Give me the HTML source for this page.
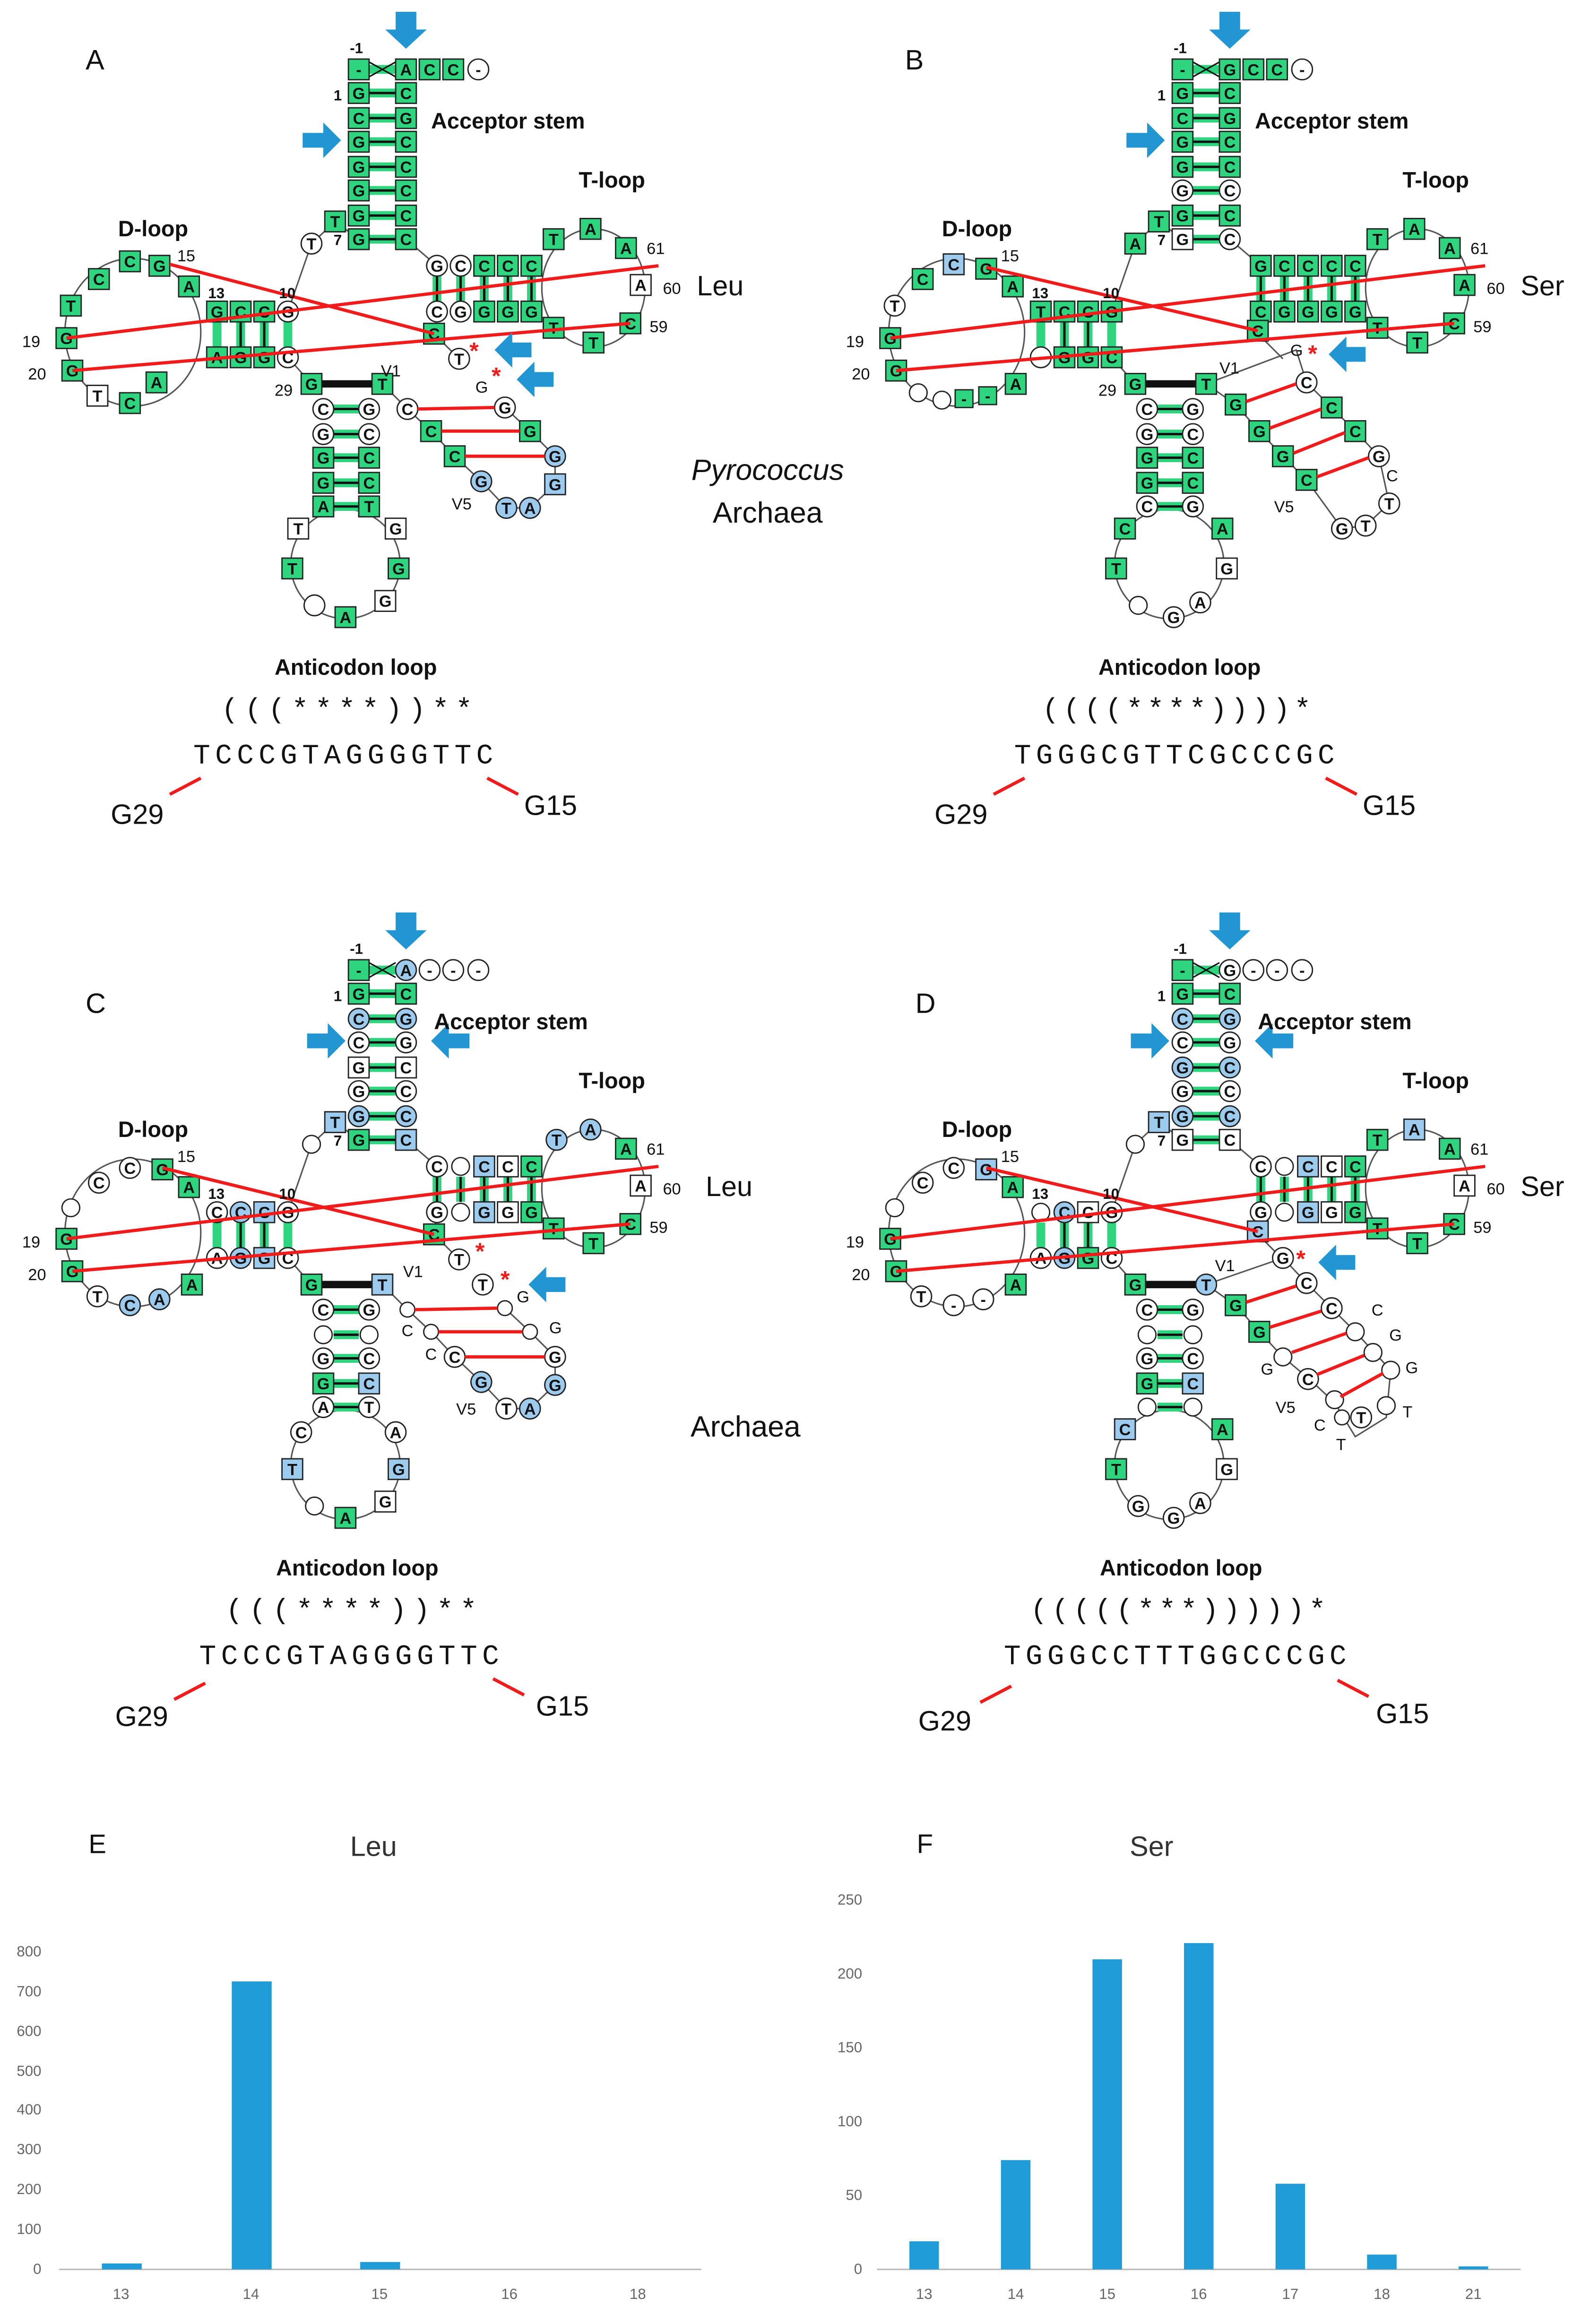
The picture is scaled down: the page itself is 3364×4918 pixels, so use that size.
<!DOCTYPE html>
<html><head><meta charset="utf-8"><style>
html,body{margin:0;padding:0;background:#fff}
svg{display:block}
text{font-family:"Liberation Sans",sans-serif}
.g{fill:#2ed47e;stroke:#222;stroke-width:.9}
.w{fill:#fff;stroke:#222;stroke-width:.9}
.b{fill:#9ccbee;stroke:#222;stroke-width:.9}
.t{font-size:11px;font-weight:bold;text-anchor:middle;fill:#111}
.n{font-size:11px;fill:#111}
.nb{font-size:10px;font-weight:bold;fill:#111}
.lab{font-size:15px;font-weight:bold;fill:#111}
.big{font-size:19px;fill:#111}
.mono{font-family:"Liberation Mono",monospace;font-size:19px;fill:#111}
.red{stroke:#f01c1c;stroke-width:2.2;fill:none}
.arr{fill:#2196d3}
.ax{font-size:10px;fill:#666}
</style></head><body>
<svg width="3364" height="4918" viewBox="0 0 1077 1574" preserveAspectRatio="none" xmlns="http://www.w3.org/2000/svg">
<defs>
<g id="skel">
<ellipse cx="90" cy="225" rx="46" ry="50" fill="none" stroke="#555" stroke-width="1"/>
<ellipse cx="402" cy="195" rx="35" ry="40" fill="none" stroke="#555" stroke-width="1"/>
<ellipse cx="234" cy="382" rx="37" ry="37" fill="none" stroke="#555" stroke-width="1"/>
<polyline points="243,162 227,150 211,165 195,211" fill="none" stroke="#555"/>
<polyline points="195,242 211,260" fill="none" stroke="#555"/>
<polyline points="275,162 296,180" fill="none" stroke="#555"/>
<polyline points="296,211 294,226 311,243" fill="none" stroke="#555"/>
<g fill="#2ed47e">
<rect x="250" y="60" width="18" height="6"/><rect x="250" y="77" width="18" height="6"/><rect x="250" y="93" width="18" height="6"/><rect x="250" y="110" width="18" height="6"/><rect x="250" y="126" width="18" height="6"/><rect x="250" y="143" width="18" height="6"/><rect x="250" y="159" width="18" height="6"/><rect x="250" y="44" width="18" height="6"/>
<rect x="144" y="218" width="6" height="17"/><rect x="160" y="218" width="6" height="17"/><rect x="176" y="218" width="6" height="17"/><rect x="192" y="218" width="6" height="17"/>
<rect x="293" y="187" width="6" height="17"/><rect x="309" y="187" width="6" height="17"/><rect x="325" y="187" width="6" height="17"/><rect x="341" y="187" width="6" height="17"/><rect x="357" y="187" width="6" height="17"/>
<rect x="226" y="291" width="17" height="6"/><rect x="226" y="307" width="17" height="6"/><rect x="226" y="324" width="17" height="6"/><rect x="226" y="340" width="17" height="6"/><rect x="226" y="274" width="17" height="6"/>
</g>
<g stroke="#111" stroke-width="1.6">
<line x1="250" y1="63" x2="268" y2="63"/><line x1="250" y1="80" x2="268" y2="80"/><line x1="250" y1="96" x2="268" y2="96"/><line x1="250" y1="113" x2="268" y2="113"/><line x1="250" y1="129" x2="268" y2="129"/><line x1="250" y1="146" x2="268" y2="146"/><line x1="250" y1="162" x2="268" y2="162"/>
<line x1="250" y1="42" x2="268" y2="52" stroke-width="1"/><line x1="250" y1="52" x2="268" y2="42" stroke-width="1"/>
<line x1="163" y1="218" x2="163" y2="235"/><line x1="179" y1="218" x2="179" y2="235"/>
<line x1="296" y1="187" x2="296" y2="204"/><line x1="312" y1="187" x2="312" y2="204"/><line x1="328" y1="187" x2="328" y2="204"/><line x1="344" y1="187" x2="344" y2="204"/><line x1="360" y1="187" x2="360" y2="204"/>
<line x1="226" y1="277" x2="243" y2="277"/><line x1="226" y1="294" x2="243" y2="294"/><line x1="226" y1="310" x2="243" y2="310"/><line x1="226" y1="327" x2="243" y2="327"/><line x1="226" y1="343" x2="243" y2="343"/>
<line x1="218" y1="260" x2="252" y2="260" stroke-width="5"/>
</g>
</g>
</defs>

<!-- PANEL A -->
<g>
<text x="58" y="47" class="big">A</text>
<use href="#skel"/>
<polyline points="259,260 276,277 292,292 308,309 326,326 343,344 359,344 376,328 376,309 359,292 342,276" fill="none" stroke="#555"/>
<rect class="g" x="236" y="40" width="14" height="14"/><text class="t" x="243" y="51">-</text>
<rect class="g" x="268" y="40" width="14" height="14"/><text class="t" x="275" y="51">A</text>
<rect class="g" x="284" y="40" width="14" height="14"/><text class="t" x="291" y="51">C</text>
<rect class="g" x="300" y="40" width="14" height="14"/><text class="t" x="307" y="51">C</text>
<circle class="w" cx="324" cy="47" r="7"/><text class="t" x="324" y="51">-</text>
<g>
<rect class="g" x="236" y="56" width="14" height="14"/><text class="t" x="243" y="67">G</text><rect class="g" x="268" y="56" width="14" height="14"/><text class="t" x="275" y="67">C</text>
<rect class="g" x="236" y="73" width="14" height="14"/><text class="t" x="243" y="84">C</text><rect class="g" x="268" y="73" width="14" height="14"/><text class="t" x="275" y="84">G</text>
<rect class="g" x="236" y="89" width="14" height="14"/><text class="t" x="243" y="100">G</text><rect class="g" x="268" y="89" width="14" height="14"/><text class="t" x="275" y="100">C</text>
<rect class="g" x="236" y="106" width="14" height="14"/><text class="t" x="243" y="117">G</text><rect class="g" x="268" y="106" width="14" height="14"/><text class="t" x="275" y="117">C</text>
<rect class="g" x="236" y="122" width="14" height="14"/><text class="t" x="243" y="133">G</text><rect class="g" x="268" y="122" width="14" height="14"/><text class="t" x="275" y="133">C</text>
<rect class="g" x="236" y="139" width="14" height="14"/><text class="t" x="243" y="150">G</text><rect class="g" x="268" y="139" width="14" height="14"/><text class="t" x="275" y="150">C</text>
<rect class="g" x="236" y="155" width="14" height="14"/><text class="t" x="243" y="166">G</text><rect class="g" x="268" y="155" width="14" height="14"/><text class="t" x="275" y="166">C</text>
</g>
<rect class="g" x="220" y="143" width="14" height="14"/><text class="t" x="227" y="154">T</text>
<circle class="w" cx="211" cy="165" r="7"/><text class="t" x="211" y="169">T</text>
<rect class="g" x="140" y="204" width="14" height="14"/><text class="t" x="147" y="215">G</text>
<rect class="g" x="156" y="204" width="14" height="14"/><text class="t" x="163" y="215">C</text>
<rect class="g" x="172" y="204" width="14" height="14"/><text class="t" x="179" y="215">C</text>
<circle class="w" cx="195" cy="211" r="7"/><text class="t" x="195" y="215">G</text>
<rect class="g" x="140" y="235" width="14" height="14"/><text class="t" x="147" y="246">A</text>
<rect class="g" x="156" y="235" width="14" height="14"/><text class="t" x="163" y="246">G</text>
<rect class="g" x="172" y="235" width="14" height="14"/><text class="t" x="179" y="246">G</text>
<circle class="w" cx="195" cy="242" r="7"/><text class="t" x="195" y="246">C</text>
<rect class="g" x="121" y="187" width="14" height="14"/><text class="t" x="128" y="198">A</text>
<rect class="g" x="101" y="173" width="14" height="14"/><text class="t" x="108" y="184">G</text>
<rect class="g" x="81" y="170" width="14" height="14"/><text class="t" x="88" y="181">C</text>
<rect class="g" x="60" y="182" width="14" height="14"/><text class="t" x="67" y="193">C</text>
<rect class="g" x="41" y="200" width="14" height="14"/><text class="t" x="48" y="211">T</text>
<rect class="g" x="38" y="222" width="14" height="14"/><text class="t" x="45" y="233">G</text>
<rect class="g" x="42" y="244" width="14" height="14"/><text class="t" x="49" y="255">G</text>
<rect class="w" x="59" y="261" width="14" height="14"/><text class="t" x="66" y="272">T</text>
<rect class="g" x="81" y="266" width="14" height="14"/><text class="t" x="88" y="277">C</text>
<rect class="g" x="99" y="252" width="14" height="14"/><text class="t" x="106" y="263">A</text>
<circle class="w" cx="296" cy="180" r="7"/><text class="t" x="296" y="184">G</text>
<circle class="w" cx="312" cy="180" r="7"/><text class="t" x="312" y="184">C</text>
<rect class="g" x="321" y="173" width="14" height="14"/><text class="t" x="328" y="184">C</text>
<rect class="g" x="337" y="173" width="14" height="14"/><text class="t" x="344" y="184">C</text>
<rect class="g" x="353" y="173" width="14" height="14"/><text class="t" x="360" y="184">C</text>
<circle class="w" cx="296" cy="211" r="7"/><text class="t" x="296" y="215">C</text>
<circle class="w" cx="312" cy="211" r="7"/><text class="t" x="312" y="215">G</text>
<rect class="g" x="321" y="204" width="14" height="14"/><text class="t" x="328" y="215">G</text>
<rect class="g" x="337" y="204" width="14" height="14"/><text class="t" x="344" y="215">G</text>
<rect class="g" x="353" y="204" width="14" height="14"/><text class="t" x="360" y="215">G</text>
<rect class="g" x="368" y="155" width="14" height="14"/><text class="t" x="375" y="166">T</text>
<rect class="g" x="393" y="148" width="14" height="14"/><text class="t" x="400" y="159">A</text>
<rect class="g" x="417" y="161" width="14" height="14"/><text class="t" x="424" y="172">A</text>
<rect class="w" x="427" y="186" width="14" height="14"/><text class="t" x="434" y="197">A</text>
<rect class="g" x="420" y="212" width="14" height="14"/><text class="t" x="427" y="223">C</text>
<rect class="g" x="395" y="225" width="14" height="14"/><text class="t" x="402" y="236">T</text>
<rect class="g" x="368" y="215" width="14" height="14"/><text class="t" x="375" y="226">T</text>
<rect class="g" x="287" y="219" width="14" height="14"/><text class="t" x="294" y="230">C</text>
<circle class="w" cx="311" cy="243" r="7"/><text class="t" x="311" y="247">T</text>
<rect class="g" x="204" y="253" width="14" height="14"/><text class="t" x="211" y="264">G</text>
<rect class="g" x="252" y="253" width="14" height="14"/><text class="t" x="259" y="264">T</text>
<circle class="w" cx="219" cy="277" r="7"/><text class="t" x="219" y="281">C</text><circle class="w" cx="250" cy="277" r="7"/><text class="t" x="250" y="281">G</text>
<circle class="w" cx="219" cy="294" r="7"/><text class="t" x="219" y="298">G</text><circle class="w" cx="250" cy="294" r="7"/><text class="t" x="250" y="298">C</text>
<rect class="g" x="212" y="303" width="14" height="14"/><text class="t" x="219" y="314">G</text><rect class="g" x="243" y="303" width="14" height="14"/><text class="t" x="250" y="314">C</text>
<rect class="g" x="212" y="320" width="14" height="14"/><text class="t" x="219" y="331">G</text><rect class="g" x="243" y="320" width="14" height="14"/><text class="t" x="250" y="331">C</text>
<rect class="g" x="212" y="336" width="14" height="14"/><text class="t" x="219" y="347">A</text><rect class="g" x="243" y="336" width="14" height="14"/><text class="t" x="250" y="347">T</text>
<rect class="w" x="195" y="351" width="14" height="14"/><text class="t" x="202" y="362">T</text>
<rect class="g" x="191" y="378" width="14" height="14"/><text class="t" x="198" y="389">T</text>
<circle class="w" cx="213" cy="410" r="7"/>
<rect class="g" x="227" y="411" width="14" height="14"/><text class="t" x="234" y="422">A</text>
<rect class="w" x="254" y="400" width="14" height="14"/><text class="t" x="261" y="411">G</text>
<rect class="g" x="263" y="378" width="14" height="14"/><text class="t" x="270" y="389">G</text>
<rect class="w" x="261" y="351" width="14" height="14"/><text class="t" x="268" y="362">G</text>
<circle class="w" cx="276" cy="277" r="7"/><text class="t" x="276" y="281">C</text>
<rect class="g" x="285" y="285" width="14" height="14"/><text class="t" x="292" y="296">C</text>
<rect class="g" x="301" y="302" width="14" height="14"/><text class="t" x="308" y="313">C</text>
<circle class="b" cx="326" cy="326" r="7"/><text class="t" x="326" y="330">G</text>
<circle class="b" cx="343" cy="344" r="7"/><text class="t" x="343" y="348">T</text>
<circle class="b" cx="359" cy="344" r="7"/><text class="t" x="359" y="348">A</text>
<rect class="b" x="369" y="321" width="14" height="14"/><text class="t" x="376" y="332">G</text>
<circle class="b" cx="376" cy="309" r="7"/><text class="t" x="376" y="313">G</text>
<rect class="g" x="352" y="285" width="14" height="14"/><text class="t" x="359" y="296">G</text>
<circle class="w" cx="342" cy="276" r="7"/><text class="t" x="342" y="280">G</text>
<line class="red" x1="283" y1="277" x2="335" y2="276"/><line class="red" x1="299" y1="292" x2="352" y2="292"/><line class="red" x1="315" y1="309" x2="369" y2="309"/>
<line class="red" x1="115" y1="179" x2="294" y2="226"/><line class="red" x1="45" y1="229" x2="446" y2="180"/><line class="red" x1="49" y1="251" x2="427" y2="219"/>
<text class="nb" x="237" y="36">-1</text><text class="nb" x="226" y="68">1</text><text class="nb" x="226" y="166">7</text><text class="nb" x="189" y="202">10</text><text class="nb" x="141" y="202">13</text>
<text class="n" x="120" y="177">15</text><text class="n" x="15" y="235">19</text><text class="n" x="19" y="257">20</text><text class="n" x="186" y="268">29</text>
<text class="n" x="438" y="172">61</text><text class="n" x="449" y="199">60</text><text class="n" x="440" y="225">59</text>
<text class="n" x="258" y="255">V1</text><text class="n" x="306" y="345">V5</text><text class="n" x="322" y="266">G</text>
<text x="318" y="243" fill="#f01c1c" font-size="16" font-weight="bold">*</text><text x="333" y="260" fill="#f01c1c" font-size="16" font-weight="bold">*</text>
<path class="arr" d="M268,8 h14 v12 h7 l-14,13 l-14,-13 h7z"/>
<path class="arr" d="M205,90 h14 v-7 l12,12 l-12,12 v-7 h-14z"/>
<path class="arr" d="M360,232 h-13 v-7 l-12,12 l12,12 v-7 h13z"/>
<path class="arr" d="M375,252 h-13 v-7 l-12,12 l12,12 v-7 h13z"/>
<text class="lab" x="292" y="87">Acceptor stem</text><text class="lab" x="392" y="127">T-loop</text><text class="lab" x="80" y="160">D-loop</text>
<text x="472" y="200" font-size="19" fill="#111">Leu</text>
<text class="lab" x="186" y="457">Anticodon loop</text>
<text class="mono" x="150" y="486" textLength="170">(((****))**</text>
<text class="mono" x="131" y="517" textLength="203">TCCCGTAGGGGTTC</text>
<line class="red" x1="115" y1="538" x2="136" y2="527"/><line class="red" x1="330" y1="527" x2="351" y2="538"/>
<text x="75" y="558" font-size="19" fill="#111">G29</text><text x="355" y="552" font-size="19" fill="#111">G15</text>
<text x="520" y="325" font-size="20" font-style="italic" text-anchor="middle" fill="#111">Pyrococcus</text>
<text x="520" y="354" font-size="20" text-anchor="middle" fill="#111">Archaea</text>
</g>

<!-- PANEL B -->
<g transform="translate(558,0)">
<text x="55" y="47" class="big">B</text>
<use href="#skel"/>
<polyline points="259,260 320,237 327,259 344,276 360,292 376,309 383,341 367,356 351,358 327,325 311,309 295,292 279,274 259,260" fill="none" stroke="#555"/>
<rect class="g" x="236" y="40" width="14" height="14"/><text class="t" x="243" y="51">-</text>
<rect class="g" x="268" y="40" width="14" height="14"/><text class="t" x="275" y="51">G</text>
<rect class="g" x="284" y="40" width="14" height="14"/><text class="t" x="291" y="51">C</text>
<rect class="g" x="300" y="40" width="14" height="14"/><text class="t" x="307" y="51">C</text>
<circle class="w" cx="324" cy="47" r="7"/><text class="t" x="324" y="51">-</text>
<rect class="g" x="236" y="56" width="14" height="14"/><text class="t" x="243" y="67">G</text><rect class="g" x="268" y="56" width="14" height="14"/><text class="t" x="275" y="67">C</text>
<rect class="g" x="236" y="73" width="14" height="14"/><text class="t" x="243" y="84">C</text><rect class="g" x="268" y="73" width="14" height="14"/><text class="t" x="275" y="84">G</text>
<rect class="g" x="236" y="89" width="14" height="14"/><text class="t" x="243" y="100">G</text><rect class="g" x="268" y="89" width="14" height="14"/><text class="t" x="275" y="100">C</text>
<rect class="g" x="236" y="106" width="14" height="14"/><text class="t" x="243" y="117">G</text><rect class="g" x="268" y="106" width="14" height="14"/><text class="t" x="275" y="117">C</text>
<circle class="w" cx="243" cy="129" r="7"/><text class="t" x="243" y="133">G</text><circle class="w" cx="275" cy="129" r="7"/><text class="t" x="275" y="133">C</text>
<rect class="g" x="236" y="139" width="14" height="14"/><text class="t" x="243" y="150">G</text><rect class="g" x="268" y="139" width="14" height="14"/><text class="t" x="275" y="150">C</text>
<rect class="w" x="236" y="155" width="14" height="14"/><text class="t" x="243" y="166">G</text><circle class="w" cx="275" cy="162" r="7"/><text class="t" x="275" y="166">C</text>
<rect class="g" x="220" y="143" width="14" height="14"/><text class="t" x="227" y="154">T</text>
<rect class="g" x="204" y="158" width="14" height="14"/><text class="t" x="211" y="169">A</text>
<rect class="g" x="140" y="204" width="14" height="14"/><text class="t" x="147" y="215">T</text>
<rect class="g" x="156" y="204" width="14" height="14"/><text class="t" x="163" y="215">C</text>
<rect class="g" x="172" y="204" width="14" height="14"/><text class="t" x="179" y="215">C</text>
<rect class="g" x="188" y="204" width="14" height="14"/><text class="t" x="195" y="215">G</text>
<circle class="w" cx="147" cy="242" r="7"/>
<rect class="g" x="156" y="235" width="14" height="14"/><text class="t" x="163" y="246">G</text>
<rect class="g" x="172" y="235" width="14" height="14"/><text class="t" x="179" y="246">G</text>
<rect class="g" x="188" y="235" width="14" height="14"/><text class="t" x="195" y="246">C</text>
<rect class="g" x="121" y="187" width="14" height="14"/><text class="t" x="128" y="198">A</text>
<rect class="g" x="103" y="175" width="14" height="14"/><text class="t" x="110" y="186">G</text>
<rect class="b" x="81" y="172" width="14" height="14"/><text class="t" x="88" y="183">C</text>
<rect class="g" x="60" y="182" width="14" height="14"/><text class="t" x="67" y="193">C</text>
<circle class="w" cx="48" cy="207" r="7"/><text class="t" x="48" y="211">T</text>
<rect class="g" x="38" y="222" width="14" height="14"/><text class="t" x="45" y="233">G</text>
<rect class="g" x="42" y="244" width="14" height="14"/><text class="t" x="49" y="255">G</text>
<circle class="w" cx="64" cy="266" r="6"/><circle class="w" cx="80" cy="271" r="6"/>
<rect class="g" x="89" y="264" width="12" height="12"/><text class="t" x="95" y="274">-</text>
<rect class="g" x="105" y="262" width="12" height="12"/><text class="t" x="111" y="272">-</text>
<rect class="g" x="123" y="253" width="14" height="14"/><text class="t" x="130" y="264">A</text>
<rect class="g" x="289" y="173" width="14" height="14"/><text class="t" x="296" y="184">G</text>
<rect class="g" x="305" y="173" width="14" height="14"/><text class="t" x="312" y="184">C</text>
<rect class="g" x="321" y="173" width="14" height="14"/><text class="t" x="328" y="184">C</text>
<rect class="g" x="337" y="173" width="14" height="14"/><text class="t" x="344" y="184">C</text>
<rect class="g" x="353" y="173" width="14" height="14"/><text class="t" x="360" y="184">C</text>
<rect class="g" x="289" y="204" width="14" height="14"/><text class="t" x="296" y="215">C</text>
<rect class="g" x="305" y="204" width="14" height="14"/><text class="t" x="312" y="215">G</text>
<rect class="g" x="321" y="204" width="14" height="14"/><text class="t" x="328" y="215">G</text>
<rect class="g" x="337" y="204" width="14" height="14"/><text class="t" x="344" y="215">G</text>
<rect class="g" x="353" y="204" width="14" height="14"/><text class="t" x="360" y="215">G</text>
<rect class="g" x="368" y="155" width="14" height="14"/><text class="t" x="375" y="166">T</text>
<rect class="g" x="393" y="148" width="14" height="14"/><text class="t" x="400" y="159">A</text>
<rect class="g" x="417" y="161" width="14" height="14"/><text class="t" x="424" y="172">A</text>
<rect class="g" x="427" y="186" width="14" height="14"/><text class="t" x="434" y="197">A</text>
<rect class="g" x="420" y="212" width="14" height="14"/><text class="t" x="427" y="223">C</text>
<rect class="g" x="395" y="225" width="14" height="14"/><text class="t" x="402" y="236">T</text>
<rect class="g" x="368" y="215" width="14" height="14"/><text class="t" x="375" y="226">T</text>
<rect class="g" x="287" y="217" width="14" height="14"/><text class="t" x="294" y="228">C</text>
<rect class="g" x="204" y="253" width="14" height="14"/><text class="t" x="211" y="264">G</text>
<rect class="g" x="252" y="253" width="14" height="14"/><text class="t" x="259" y="264">T</text>
<circle class="w" cx="219" cy="277" r="7"/><text class="t" x="219" y="281">C</text><circle class="w" cx="250" cy="277" r="7"/><text class="t" x="250" y="281">G</text>
<circle class="w" cx="219" cy="294" r="7"/><text class="t" x="219" y="298">G</text><circle class="w" cx="250" cy="294" r="7"/><text class="t" x="250" y="298">C</text>
<rect class="g" x="212" y="303" width="14" height="14"/><text class="t" x="219" y="314">G</text><rect class="g" x="243" y="303" width="14" height="14"/><text class="t" x="250" y="314">C</text>
<rect class="g" x="212" y="320" width="14" height="14"/><text class="t" x="219" y="331">G</text><rect class="g" x="243" y="320" width="14" height="14"/><text class="t" x="250" y="331">C</text>
<circle class="w" cx="219" cy="343" r="7"/><text class="t" x="219" y="347">C</text><circle class="w" cx="250" cy="343" r="7"/><text class="t" x="250" y="347">G</text>
<rect class="g" x="197" y="351" width="14" height="14"/><text class="t" x="204" y="362">C</text>
<rect class="g" x="191" y="378" width="14" height="14"/><text class="t" x="198" y="389">T</text>
<circle class="w" cx="213" cy="410" r="6"/>
<circle class="w" cx="237" cy="418" r="7"/><text class="t" x="237" y="422">G</text>
<circle class="w" cx="255" cy="408" r="7"/><text class="t" x="255" y="412">A</text>
<rect class="w" x="266" y="378" width="14" height="14"/><text class="t" x="273" y="389">G</text>
<rect class="g" x="263" y="351" width="14" height="14"/><text class="t" x="270" y="362">A</text>
<text class="n" x="316" y="241">G</text>
<circle class="w" cx="327" cy="259" r="7"/><text class="t" x="327" y="263">C</text>
<rect class="g" x="337" y="269" width="14" height="14"/><text class="t" x="344" y="280">C</text>
<rect class="g" x="353" y="285" width="14" height="14"/><text class="t" x="360" y="296">C</text>
<circle class="w" cx="376" cy="309" r="7"/><text class="t" x="376" y="313">G</text>
<text class="n" x="381" y="326">C</text>
<circle class="w" cx="383" cy="341" r="7"/><text class="t" x="383" y="345">T</text>
<circle class="w" cx="367" cy="356" r="7"/><text class="t" x="367" y="360">T</text>
<circle class="w" cx="351" cy="358" r="7"/><text class="t" x="351" y="362">G</text>
<rect class="g" x="272" y="267" width="14" height="14"/><text class="t" x="279" y="278">G</text>
<rect class="g" x="288" y="285" width="14" height="14"/><text class="t" x="295" y="296">G</text>
<rect class="g" x="304" y="302" width="14" height="14"/><text class="t" x="311" y="313">G</text>
<rect class="g" x="320" y="318" width="14" height="14"/><text class="t" x="327" y="329">C</text>
<line class="red" x1="286" y1="272" x2="320" y2="260"/><line class="red" x1="302" y1="290" x2="337" y2="277"/><line class="red" x1="318" y1="307" x2="353" y2="293"/><line class="red" x1="334" y1="323" x2="369" y2="310"/>
<line class="red" x1="110" y1="181" x2="294" y2="224"/><line class="red" x1="45" y1="229" x2="448" y2="180"/><line class="red" x1="49" y1="251" x2="427" y2="219"/>
<text class="nb" x="237" y="36">-1</text><text class="nb" x="226" y="68">1</text><text class="nb" x="226" y="166">7</text><text class="nb" x="189" y="202">10</text><text class="nb" x="141" y="202">13</text>
<text class="n" x="120" y="177">15</text><text class="n" x="15" y="235">19</text><text class="n" x="19" y="257">20</text><text class="n" x="186" y="268">29</text>
<text class="n" x="438" y="172">61</text><text class="n" x="449" y="199">60</text><text class="n" x="440" y="225">59</text>
<text class="n" x="268" y="253">V1</text><text class="n" x="305" y="347">V5</text>
<text x="328" y="245" fill="#f01c1c" font-size="16" font-weight="bold">*</text>
<path class="arr" d="M268,8 h14 v12 h7 l-14,13 l-14,-13 h7z"/>
<path class="arr" d="M205,90 h14 v-7 l12,12 l-12,12 v-7 h-14z"/>
<path class="arr" d="M367,235 h-13 v-7 l-12,12 l12,12 v-7 h13z"/>
<text class="lab" x="292" y="87">Acceptor stem</text><text class="lab" x="392" y="127">T-loop</text><text class="lab" x="80" y="160">D-loop</text>
<text x="472" y="200" font-size="19" fill="#111">Ser</text>
<text class="lab" x="186" y="457">Anticodon loop</text>
<text class="mono" x="148" y="486" textLength="182">((((****))))*</text>
<text class="mono" x="129" y="517" textLength="217">TGGGCGTTCGCCCGC</text>
<line class="red" x1="115" y1="538" x2="136" y2="527"/><line class="red" x1="340" y1="527" x2="361" y2="538"/>
<text x="75" y="558" font-size="19" fill="#111">G29</text><text x="365" y="552" font-size="19" fill="#111">G15</text>
</g>

<!-- PANEL C -->
<g transform="translate(0,610)">
<text x="58" y="76" class="big">C</text>
<use href="#skel"/>
<polyline points="259,260 276,277 292,292 308,309 326,326 343,344 359,344 376,328 376,309 359,292 342,276" fill="none" stroke="#555"/>
<rect class="g" x="236" y="40" width="14" height="14"/><text class="t" x="243" y="51">-</text>
<circle class="b" cx="275" cy="47" r="7"/><text class="t" x="275" y="51">A</text>
<circle class="w" cx="291" cy="47" r="7"/><text class="t" x="291" y="51">-</text>
<circle class="w" cx="307" cy="47" r="7"/><text class="t" x="307" y="51">-</text>
<circle class="w" cx="324" cy="47" r="7"/><text class="t" x="324" y="51">-</text>
<rect class="g" x="236" y="56" width="14" height="14"/><text class="t" x="243" y="67">G</text><rect class="g" x="268" y="56" width="14" height="14"/><text class="t" x="275" y="67">C</text>
<circle class="b" cx="243" cy="80" r="7"/><text class="t" x="243" y="84">C</text><circle class="b" cx="275" cy="80" r="7"/><text class="t" x="275" y="84">G</text>
<circle class="w" cx="243" cy="96" r="7"/><text class="t" x="243" y="100">C</text><circle class="w" cx="275" cy="96" r="7"/><text class="t" x="275" y="100">G</text>
<rect class="w" x="236" y="106" width="14" height="14"/><text class="t" x="243" y="117">G</text><rect class="w" x="268" y="106" width="14" height="14"/><text class="t" x="275" y="117">C</text>
<circle class="w" cx="243" cy="129" r="7"/><text class="t" x="243" y="133">G</text><circle class="w" cx="275" cy="129" r="7"/><text class="t" x="275" y="133">C</text>
<circle class="b" cx="243" cy="146" r="7"/><text class="t" x="243" y="150">G</text><circle class="b" cx="275" cy="146" r="7"/><text class="t" x="275" y="150">C</text>
<rect class="g" x="236" y="155" width="14" height="14"/><text class="t" x="243" y="166">G</text><rect class="b" x="268" y="155" width="14" height="14"/><text class="t" x="275" y="166">C</text>
<rect class="b" x="220" y="143" width="14" height="14"/><text class="t" x="227" y="154">T</text>
<circle class="w" cx="211" cy="165" r="6"/>
<circle class="w" cx="147" cy="211" r="7"/><text class="t" x="147" y="215">C</text>
<circle class="b" cx="163" cy="211" r="7"/><text class="t" x="163" y="215">C</text>
<rect class="b" x="172" y="204" width="14" height="14"/><text class="t" x="179" y="215">C</text>
<circle class="w" cx="195" cy="211" r="7"/><text class="t" x="195" y="215">G</text>
<circle class="w" cx="147" cy="242" r="7"/><text class="t" x="147" y="246">A</text>
<circle class="b" cx="163" cy="242" r="7"/><text class="t" x="163" y="246">G</text>
<rect class="b" x="172" y="235" width="14" height="14"/><text class="t" x="179" y="246">G</text>
<circle class="w" cx="195" cy="242" r="7"/><text class="t" x="195" y="246">C</text>
<rect class="g" x="121" y="187" width="14" height="14"/><text class="t" x="128" y="198">A</text>
<rect class="g" x="103" y="175" width="14" height="14"/><text class="t" x="110" y="186">G</text>
<circle class="w" cx="88" cy="181" r="7"/><text class="t" x="88" y="185">C</text>
<circle class="w" cx="67" cy="191" r="7"/><text class="t" x="67" y="195">C</text>
<circle class="w" cx="48" cy="208" r="6"/>
<rect class="g" x="38" y="222" width="14" height="14"/><text class="t" x="45" y="233">G</text>
<rect class="g" x="42" y="244" width="14" height="14"/><text class="t" x="49" y="255">G</text>
<circle class="w" cx="66" cy="268" r="7"/><text class="t" x="66" y="272">T</text>
<circle class="b" cx="88" cy="274" r="7"/><text class="t" x="88" y="278">C</text>
<circle class="b" cx="108" cy="270" r="7"/><text class="t" x="108" y="274">A</text>
<rect class="g" x="123" y="253" width="14" height="14"/><text class="t" x="130" y="264">A</text>
<circle class="w" cx="296" cy="180" r="7"/><text class="t" x="296" y="184">C</text>
<circle class="w" cx="312" cy="180" r="6"/>
<rect class="b" x="321" y="173" width="14" height="14"/><text class="t" x="328" y="184">C</text>
<rect class="w" x="337" y="173" width="14" height="14"/><text class="t" x="344" y="184">C</text>
<rect class="g" x="353" y="173" width="14" height="14"/><text class="t" x="360" y="184">C</text>
<circle class="w" cx="296" cy="211" r="7"/><text class="t" x="296" y="215">G</text>
<circle class="w" cx="312" cy="211" r="6"/>
<rect class="b" x="321" y="204" width="14" height="14"/><text class="t" x="328" y="215">G</text>
<rect class="w" x="337" y="204" width="14" height="14"/><text class="t" x="344" y="215">G</text>
<rect class="g" x="353" y="204" width="14" height="14"/><text class="t" x="360" y="215">G</text>
<circle class="b" cx="377" cy="162" r="7"/><text class="t" x="377" y="166">T</text>
<circle class="b" cx="400" cy="155" r="7"/><text class="t" x="400" y="159">A</text>
<rect class="g" x="417" y="161" width="14" height="14"/><text class="t" x="424" y="172">A</text>
<rect class="w" x="427" y="186" width="14" height="14"/><text class="t" x="434" y="197">A</text>
<rect class="g" x="420" y="212" width="14" height="14"/><text class="t" x="427" y="223">C</text>
<rect class="g" x="395" y="225" width="14" height="14"/><text class="t" x="402" y="236">T</text>
<rect class="g" x="368" y="215" width="14" height="14"/><text class="t" x="375" y="226">T</text>
<rect class="g" x="287" y="219" width="14" height="14"/><text class="t" x="294" y="230">C</text>
<circle class="w" cx="311" cy="243" r="7"/><text class="t" x="311" y="247">T</text>
<circle class="w" cx="327" cy="260" r="7"/><text class="t" x="327" y="264">T</text>
<rect class="g" x="204" y="253" width="14" height="14"/><text class="t" x="211" y="264">G</text>
<rect class="b" x="252" y="253" width="14" height="14"/><text class="t" x="259" y="264">T</text>
<circle class="w" cx="219" cy="277" r="7"/><text class="t" x="219" y="281">C</text><circle class="w" cx="250" cy="277" r="7"/><text class="t" x="250" y="281">G</text>
<circle class="w" cx="219" cy="294" r="6"/><circle class="w" cx="250" cy="294" r="6"/>
<circle class="w" cx="219" cy="310" r="7"/><text class="t" x="219" y="314">G</text><circle class="w" cx="250" cy="310" r="7"/><text class="t" x="250" y="314">C</text>
<rect class="g" x="212" y="320" width="14" height="14"/><text class="t" x="219" y="331">G</text><rect class="b" x="243" y="320" width="14" height="14"/><text class="t" x="250" y="331">C</text>
<circle class="w" cx="219" cy="343" r="7"/><text class="t" x="219" y="347">A</text><circle class="w" cx="250" cy="343" r="7"/><text class="t" x="250" y="347">T</text>
<circle class="w" cx="204" cy="360" r="7"/><text class="t" x="204" y="364">C</text>
<rect class="b" x="191" y="378" width="14" height="14"/><text class="t" x="198" y="389">T</text>
<circle class="w" cx="213" cy="410" r="6"/>
<rect class="g" x="227" y="411" width="14" height="14"/><text class="t" x="234" y="422">A</text>
<rect class="w" x="254" y="400" width="14" height="14"/><text class="t" x="261" y="411">G</text>
<rect class="b" x="263" y="378" width="14" height="14"/><text class="t" x="270" y="389">G</text>
<circle class="w" cx="268" cy="360" r="7"/><text class="t" x="268" y="364">A</text>
<circle class="w" cx="276" cy="277" r="5"/><text class="n" x="272" y="295">C</text>
<circle class="w" cx="292" cy="292" r="5"/><text class="n" x="288" y="311">C</text>
<circle class="w" cx="308" cy="309" r="7"/><text class="t" x="308" y="313">C</text>
<circle class="b" cx="326" cy="326" r="7"/><text class="t" x="326" y="330">G</text>
<circle class="w" cx="343" cy="344" r="7"/><text class="t" x="343" y="348">T</text>
<circle class="b" cx="359" cy="344" r="7"/><text class="t" x="359" y="348">A</text>
<circle class="b" cx="376" cy="328" r="7"/><text class="t" x="376" y="332">G</text>
<circle class="w" cx="376" cy="309" r="7"/><text class="t" x="376" y="313">G</text>
<circle class="w" cx="359" cy="292" r="5"/><text class="n" x="372" y="293">G</text>
<circle class="w" cx="342" cy="276" r="5"/><text class="n" x="350" y="272">G</text>
<line class="red" x1="281" y1="277" x2="337" y2="276"/><line class="red" x1="297" y1="292" x2="354" y2="292"/><line class="red" x1="315" y1="309" x2="369" y2="309"/>
<line class="red" x1="110" y1="181" x2="294" y2="226"/><line class="red" x1="45" y1="229" x2="446" y2="180"/><line class="red" x1="49" y1="251" x2="427" y2="219"/>
<text class="nb" x="237" y="36">-1</text><text class="nb" x="226" y="68">1</text><text class="nb" x="226" y="166">7</text><text class="nb" x="189" y="202">10</text><text class="nb" x="141" y="202">13</text>
<text class="n" x="120" y="177">15</text><text class="n" x="15" y="235">19</text><text class="n" x="19" y="257">20</text>
<text class="n" x="438" y="172">61</text><text class="n" x="449" y="199">60</text><text class="n" x="440" y="225">59</text>
<text class="n" x="273" y="255">V1</text><text class="n" x="309" y="348">V5</text>
<text x="322" y="243" fill="#f01c1c" font-size="16" font-weight="bold">*</text><text x="339" y="262" fill="#f01c1c" font-size="16" font-weight="bold">*</text>
<path class="arr" d="M268,8 h14 v12 h7 l-14,13 l-14,-13 h7z"/>
<path class="arr" d="M208,90 h14 v-7 l12,12 l-12,12 v-7 h-14z"/>
<path class="arr" d="M318,90 h-14 v-7 l-12,12 l12,12 v-7 h14z"/>
<path class="arr" d="M383,255 h-13 v-7 l-12,12 l12,12 v-7 h13z"/>
<text class="lab" x="294" y="87">Acceptor stem</text><text class="lab" x="392" y="127">T-loop</text><text class="lab" x="80" y="160">D-loop</text>
<text x="478" y="200" font-size="19" fill="#111">Leu</text>
<text class="lab" x="187" y="457">Anticodon loop</text>
<text class="mono" x="153" y="486" textLength="170">(((****))**</text>
<text class="mono" x="135" y="517" textLength="203">TCCCGTAGGGGTTC</text>
<line class="red" x1="118" y1="541" x2="139" y2="530"/><line class="red" x1="334" y1="527" x2="355" y2="538"/>
<text x="78" y="559" font-size="19" fill="#111">G29</text><text x="363" y="552" font-size="19" fill="#111">G15</text>
<text x="505" y="363" font-size="20" text-anchor="middle" fill="#111">Archaea</text>
</g>

<!-- PANEL D -->
<g transform="translate(558,610)">
<text x="62" y="76" class="big">D</text>
<use href="#skel"/>
<polyline points="259,260 311,242 327,259 344,276 360,292 384,318 381,350 360,363 346,340 330,325 311,309 295,292 279,274 259,260" fill="none" stroke="#555"/>
<rect class="g" x="236" y="40" width="14" height="14"/><text class="t" x="243" y="51">-</text>
<circle class="w" cx="275" cy="47" r="7"/><text class="t" x="275" y="51">G</text>
<circle class="w" cx="291" cy="47" r="7"/><text class="t" x="291" y="51">-</text>
<circle class="w" cx="307" cy="47" r="7"/><text class="t" x="307" y="51">-</text>
<circle class="w" cx="324" cy="47" r="7"/><text class="t" x="324" y="51">-</text>
<rect class="g" x="236" y="56" width="14" height="14"/><text class="t" x="243" y="67">G</text><rect class="g" x="268" y="56" width="14" height="14"/><text class="t" x="275" y="67">C</text>
<circle class="b" cx="243" cy="80" r="7"/><text class="t" x="243" y="84">C</text><circle class="b" cx="275" cy="80" r="7"/><text class="t" x="275" y="84">G</text>
<circle class="w" cx="243" cy="96" r="7"/><text class="t" x="243" y="100">C</text><circle class="w" cx="275" cy="96" r="7"/><text class="t" x="275" y="100">G</text>
<circle class="b" cx="243" cy="113" r="7"/><text class="t" x="243" y="117">G</text><circle class="b" cx="275" cy="113" r="7"/><text class="t" x="275" y="117">C</text>
<circle class="w" cx="243" cy="129" r="7"/><text class="t" x="243" y="133">G</text><circle class="w" cx="275" cy="129" r="7"/><text class="t" x="275" y="133">C</text>
<circle class="b" cx="243" cy="146" r="7"/><text class="t" x="243" y="150">G</text><circle class="b" cx="275" cy="146" r="7"/><text class="t" x="275" y="150">C</text>
<rect class="w" x="236" y="155" width="14" height="14"/><text class="t" x="243" y="166">G</text><rect class="w" x="268" y="155" width="14" height="14"/><text class="t" x="275" y="166">C</text>
<rect class="b" x="220" y="143" width="14" height="14"/><text class="t" x="227" y="154">T</text>
<circle class="w" cx="211" cy="165" r="6"/>
<circle class="w" cx="147" cy="211" r="6"/>
<circle class="b" cx="163" cy="211" r="7"/><text class="t" x="163" y="215">C</text>
<rect class="w" x="172" y="204" width="14" height="14"/><text class="t" x="179" y="215">C</text>
<circle class="w" cx="195" cy="211" r="7"/><text class="t" x="195" y="215">G</text>
<circle class="w" cx="147" cy="242" r="7"/><text class="t" x="147" y="246">A</text>
<circle class="b" cx="163" cy="242" r="7"/><text class="t" x="163" y="246">G</text>
<rect class="g" x="172" y="235" width="14" height="14"/><text class="t" x="179" y="246">G</text>
<circle class="w" cx="195" cy="242" r="7"/><text class="t" x="195" y="246">C</text>
<rect class="g" x="121" y="187" width="14" height="14"/><text class="t" x="128" y="198">A</text>
<rect class="b" x="103" y="175" width="14" height="14"/><text class="t" x="110" y="186">G</text>
<circle class="w" cx="88" cy="181" r="7"/><text class="t" x="88" y="185">C</text>
<circle class="w" cx="67" cy="191" r="7"/><text class="t" x="67" y="195">C</text>
<circle class="w" cx="48" cy="208" r="6"/>
<rect class="g" x="38" y="222" width="14" height="14"/><text class="t" x="45" y="233">G</text>
<rect class="g" x="42" y="244" width="14" height="14"/><text class="t" x="49" y="255">G</text>
<circle class="w" cx="66" cy="268" r="7"/><text class="t" x="66" y="272">T</text>
<circle class="w" cx="88" cy="274" r="7"/><text class="t" x="88" y="278">-</text>
<circle class="w" cx="108" cy="270" r="7"/><text class="t" x="108" y="274">-</text>
<rect class="g" x="123" y="253" width="14" height="14"/><text class="t" x="130" y="264">A</text>
<circle class="w" cx="296" cy="180" r="7"/><text class="t" x="296" y="184">C</text>
<circle class="w" cx="312" cy="180" r="6"/>
<rect class="b" x="321" y="173" width="14" height="14"/><text class="t" x="328" y="184">C</text>
<rect class="w" x="337" y="173" width="14" height="14"/><text class="t" x="344" y="184">C</text>
<rect class="g" x="353" y="173" width="14" height="14"/><text class="t" x="360" y="184">C</text>
<circle class="w" cx="296" cy="211" r="7"/><text class="t" x="296" y="215">G</text>
<circle class="w" cx="312" cy="211" r="6"/>
<rect class="b" x="321" y="204" width="14" height="14"/><text class="t" x="328" y="215">G</text>
<rect class="w" x="337" y="204" width="14" height="14"/><text class="t" x="344" y="215">G</text>
<rect class="g" x="353" y="204" width="14" height="14"/><text class="t" x="360" y="215">G</text>
<rect class="g" x="368" y="155" width="14" height="14"/><text class="t" x="375" y="166">T</text>
<rect class="b" x="393" y="148" width="14" height="14"/><text class="t" x="400" y="159">A</text>
<rect class="g" x="417" y="161" width="14" height="14"/><text class="t" x="424" y="172">A</text>
<rect class="w" x="427" y="186" width="14" height="14"/><text class="t" x="434" y="197">A</text>
<rect class="g" x="420" y="212" width="14" height="14"/><text class="t" x="427" y="223">C</text>
<rect class="g" x="395" y="225" width="14" height="14"/><text class="t" x="402" y="236">T</text>
<rect class="g" x="368" y="215" width="14" height="14"/><text class="t" x="375" y="226">T</text>
<rect class="b" x="287" y="217" width="14" height="14"/><text class="t" x="294" y="228">C</text>
<rect class="g" x="204" y="253" width="14" height="14"/><text class="t" x="211" y="264">G</text>
<circle class="b" cx="259" cy="260" r="7"/><text class="t" x="259" y="264">T</text>
<circle class="w" cx="219" cy="277" r="7"/><text class="t" x="219" y="281">C</text><circle class="w" cx="250" cy="277" r="7"/><text class="t" x="250" y="281">G</text>
<circle class="w" cx="219" cy="294" r="6"/><circle class="w" cx="250" cy="294" r="6"/>
<circle class="w" cx="219" cy="310" r="7"/><text class="t" x="219" y="314">G</text><circle class="w" cx="250" cy="310" r="7"/><text class="t" x="250" y="314">C</text>
<rect class="g" x="212" y="320" width="14" height="14"/><text class="t" x="219" y="331">G</text><rect class="b" x="243" y="320" width="14" height="14"/><text class="t" x="250" y="331">C</text>
<circle class="w" cx="219" cy="343" r="6"/><circle class="w" cx="250" cy="343" r="6"/>
<rect class="b" x="197" y="351" width="14" height="14"/><text class="t" x="204" y="362">C</text>
<rect class="g" x="191" y="378" width="14" height="14"/><text class="t" x="198" y="389">T</text>
<circle class="w" cx="213" cy="410" r="7"/><text class="t" x="213" y="414">G</text>
<circle class="w" cx="237" cy="418" r="7"/><text class="t" x="237" y="422">G</text>
<circle class="w" cx="255" cy="408" r="7"/><text class="t" x="255" y="412">A</text>
<rect class="w" x="266" y="378" width="14" height="14"/><text class="t" x="273" y="389">G</text>
<rect class="g" x="263" y="351" width="14" height="14"/><text class="t" x="270" y="362">A</text>
<circle class="w" cx="311" cy="242" r="7"/><text class="t" x="311" y="246">G</text>
<circle class="w" cx="327" cy="259" r="7"/><text class="t" x="327" y="263">C</text>
<circle class="w" cx="344" cy="276" r="7"/><text class="t" x="344" y="280">C</text>
<text class="n" x="371" y="281">C</text>
<circle class="w" cx="360" cy="292" r="6"/><text class="n" x="383" y="298">G</text>
<circle class="w" cx="372" cy="306" r="6"/><text class="n" x="394" y="320">G</text>
<circle class="w" cx="384" cy="318" r="6"/>
<circle class="w" cx="381" cy="342" r="6"/><text class="n" x="392" y="350">T</text>
<circle class="w" cx="364" cy="350" r="7"/><text class="t" x="364" y="354">T</text>
<circle class="w" cx="351" cy="350" r="5"/><text class="n" x="347" y="372">T</text>
<circle class="w" cx="346" cy="338" r="6"/><text class="n" x="332" y="359">C</text>
<rect class="g" x="272" y="267" width="14" height="14"/><text class="t" x="279" y="278">G</text>
<rect class="g" x="288" y="285" width="14" height="14"/><text class="t" x="295" y="296">G</text>
<circle class="w" cx="311" cy="309" r="6"/><text class="n" x="296" y="321">G</text>
<circle class="w" cx="328" cy="324" r="7"/><text class="t" x="328" y="328">C</text>
<line class="red" x1="286" y1="272" x2="320" y2="261"/><line class="red" x1="302" y1="289" x2="337" y2="278"/><line class="red" x1="317" y1="306" x2="354" y2="293"/><line class="red" x1="334" y1="321" x2="366" y2="308"/><line class="red" x1="350" y1="336" x2="379" y2="320"/>
<line class="red" x1="110" y1="181" x2="294" y2="224"/><line class="red" x1="45" y1="229" x2="448" y2="180"/><line class="red" x1="49" y1="251" x2="427" y2="219"/>
<text class="nb" x="237" y="36">-1</text><text class="nb" x="226" y="68">1</text><text class="nb" x="226" y="166">7</text><text class="nb" x="189" y="202">10</text><text class="nb" x="141" y="202">13</text>
<text class="n" x="120" y="177">15</text><text class="n" x="15" y="235">19</text><text class="n" x="19" y="257">20</text>
<text class="n" x="438" y="172">61</text><text class="n" x="449" y="199">60</text><text class="n" x="440" y="225">59</text>
<text class="n" x="265" y="251">V1</text><text class="n" x="306" y="347">V5</text>
<text x="320" y="248" fill="#f01c1c" font-size="16" font-weight="bold">*</text>
<path class="arr" d="M208,90 h14 v-7 l12,12 l-12,12 v-7 h-14z"/>
<path class="arr" d="M268,8 h14 v12 h7 l-14,13 l-14,-13 h7z"/>
<path class="arr" d="M318,90 h-14 v-7 l-12,12 l12,12 v-7 h14z"/>
<path class="arr" d="M360,240 h-13 v-7 l-12,12 l12,12 v-7 h13z"/>
<text class="lab" x="294" y="87">Acceptor stem</text><text class="lab" x="392" y="127">T-loop</text><text class="lab" x="80" y="160">D-loop</text>
<text x="472" y="200" font-size="19" fill="#111">Ser</text>
<text class="lab" x="187" y="457">Anticodon loop</text>
<text class="mono" x="140" y="486" textLength="200">(((((***)))))*</text>
<text class="mono" x="122" y="517" textLength="232">TGGGCCTTTGGCCCGC</text>
<line class="red" x1="106" y1="543" x2="127" y2="532"/><line class="red" x1="348" y1="528" x2="369" y2="539"/>
<text x="64" y="562" font-size="19" fill="#111">G29</text><text x="374" y="557" font-size="19" fill="#111">G15</text>
</g>

<!-- CHART E -->
<g>
<text x="60" y="1255" font-size="18" fill="#111">E</text>
<text x="253" y="1257" font-size="19" text-anchor="middle" fill="#333">Leu</text>
<line x1="40" y1="1537" x2="475" y2="1537" stroke="#bbb" stroke-width="1"/>
<g class="ax" text-anchor="end">
<text x="28" y="1540">0</text><text x="28" y="1513">100</text><text x="28" y="1486">200</text><text x="28" y="1459">300</text><text x="28" y="1432">400</text><text x="28" y="1406">500</text><text x="28" y="1379">600</text><text x="28" y="1352">700</text><text x="28" y="1325">800</text>
</g>
<g fill="#1f9bd7">
<rect x="69" y="1533" width="27" height="4"/><rect x="157" y="1342" width="27" height="195"/><rect x="244" y="1532" width="27" height="5"/>
</g>
<g class="ax" text-anchor="middle">
<text x="82" y="1557">13</text><text x="170" y="1557">14</text><text x="257" y="1557">15</text><text x="345" y="1557">16</text><text x="432" y="1557">18</text>
</g>
</g>

<!-- CHART F -->
<g>
<text x="621" y="1255" font-size="18" fill="#111">F</text>
<text x="780" y="1257" font-size="19" text-anchor="middle" fill="#333">Ser</text>
<line x1="594" y1="1537" x2="1030" y2="1537" stroke="#bbb" stroke-width="1"/>
<g class="ax" text-anchor="end">
<text x="584" y="1540">0</text><text x="584" y="1490">50</text><text x="584" y="1440">100</text><text x="584" y="1390">150</text><text x="584" y="1340">200</text><text x="584" y="1290">250</text>
</g>
<g fill="#1f9bd7">
<rect x="616" y="1518" width="20" height="19"/><rect x="678" y="1463" width="20" height="74"/><rect x="740" y="1327" width="20" height="210"/><rect x="802" y="1316" width="20" height="221"/><rect x="864" y="1479" width="20" height="58"/><rect x="926" y="1527" width="20" height="10"/><rect x="988" y="1535" width="20" height="2"/>
</g>
<g class="ax" text-anchor="middle">
<text x="626" y="1557">13</text><text x="688" y="1557">14</text><text x="750" y="1557">15</text><text x="812" y="1557">16</text><text x="874" y="1557">17</text><text x="936" y="1557">18</text><text x="998" y="1557">21</text>
</g>
</g>
</svg>
</body></html>
